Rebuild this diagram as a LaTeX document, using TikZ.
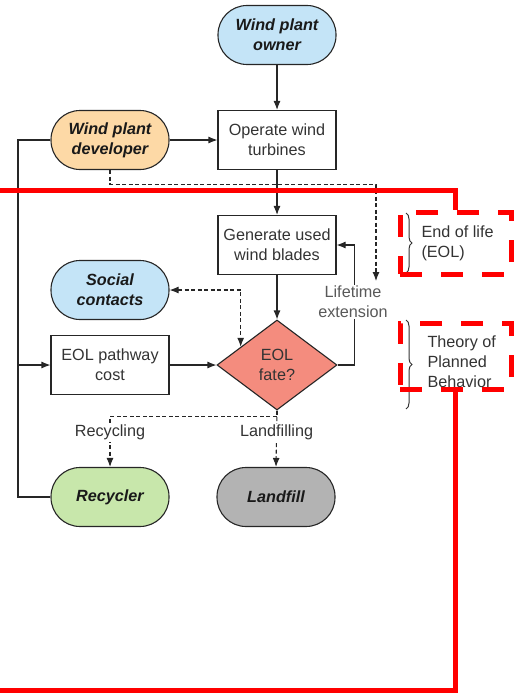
\documentclass[tikz,border=0pt]{standalone}
\usepackage{fontspec}
\setmainfont{Liberation Sans}
\usetikzlibrary{arrows.meta,shapes.geometric,calc,decorations.pathreplacing}

\definecolor{ownerblue}{HTML}{C4E4F7}
\definecolor{devorange}{HTML}{FDD9A6}
\definecolor{recgreen}{HTML}{C8E7AB}
\definecolor{landgray}{HTML}{B3B3B3}
\definecolor{fatered}{HTML}{F48C7E}
\definecolor{ink}{HTML}{333333}
\definecolor{annot}{HTML}{FF0000}

\begin{document}
\begin{tikzpicture}[x=1pt,y=-1pt,
  every node/.style={font=\fontsize{16.2}{20}\selectfont, text=ink, align=center},
  box/.style={draw=black!85, line width=1.1pt, minimum width=118pt, minimum height=59pt, inner sep=2pt},
  pill/.style={box, rounded corners=29pt, font=\fontsize{16.2}{20}\selectfont\bfseries\itshape, text=black!90},
  link/.style={draw=black!85, line width=1.1pt, -{Latex[length=9pt,width=7pt]}},
  dlink/.style={link, dash pattern=on 4pt off 2.5pt},
  wire/.style={draw=black!85, line width=1.1pt},
  edgelabel/.style={fill=white, inner sep=1.5pt},
  brace/.style={decorate, decoration={brace, amplitude=6pt}, draw=black!80, line width=1pt},
  redline/.style={draw=annot, line width=5pt},
  redbox/.style={draw=annot, line width=5pt, dash pattern=on 22pt off 19pt, minimum width=111pt, minimum height=62pt, inner sep=0pt}
]
\path[use as bounding box] (0,0) rectangle (514,693);

% actors and process steps
\node[pill, fill=ownerblue] (owner) at (277,35) {Wind plant\\owner};
\node[box] (operate) at (277,140) {Operate wind\\turbines};
\node[pill, fill=devorange] (dev) at (110,140) {Wind plant\\developer};
\node[box] (gen) at (277,245) {Generate used\\wind blades};
\node[pill, fill=ownerblue] (social) at (110,290) {Social\\contacts};
\node[box] (cost) at (110,365) {EOL pathway\\cost};
\node[draw=black!85, line width=1.1pt, diamond, fill=fatered, minimum width=120pt, minimum height=90pt, inner sep=0pt] (fate) at (277,365) {EOL\\fate?};
\node[pill, fill=recgreen] (rec) at (110,497) {Recycler};
\node[pill, fill=landgray] (land) at (276,497) {Landfill};

% main flow
\draw[link] (owner) -- (operate);
\draw[link] (dev) -- (operate);
\draw[link] (operate) -- (gen);
\draw[link] (gen) -- (fate);
\draw[link] (cost) -- (fate);

% feedback rail on the left
\coordinate (rail) at (18,365);
\draw[wire] (dev.west) -| (rail) |- (rec.west);
\draw[link] (rail) -- (cost.west);

% lifetime extension loop
\draw[link] (fate.east) -- ++(17,0) |- (gen.east);
\node[edgelabel, text=black!65] (life) at (353,302) {Lifetime\\extension};
\coordinate (lifetop) at (376,281);
\draw[dlink] (dev.south) -- ++(0,14) -| (lifetop);

% social influence
\coordinate (fateedge) at ($(fate.west)!0.4!(fate.north)$);
\draw[dlink, {Latex[length=9pt,width=7pt]}-{Latex[length=9pt,width=7pt]}] (social.east) -| (fateedge);

% end-of-life pathways
\draw[dlink] (fate.south) -- ++(0,6) -| node[edgelabel, pos=0.66] (recyc) {Recycling} (rec.north);
\draw[dlink] (fate.south) -- node[edgelabel, pos=0.39] (landf) {Landfilling} (land.north);

% annotations
\draw[brace] (406,213) -- (406,273);
\node[anchor=west, align=left] (eoltext) at (418,243) {End of life\\(EOL)};
\draw[brace] (406,320) -- (406,409);
\node[anchor=west, align=left] (tpbtext) at (424,362) {Theory of\\Planned\\Behavior};

\node[redbox] (eolbox) at (455.5,243) {};
\node[redbox, minimum height=66pt] (tpbbox) at (455.5,356) {};
\draw[redline] (-5,190) -| (eolbox.north);
\draw[redline] (tpbbox.south) |- (-5,690);
\end{tikzpicture}
\end{document}
